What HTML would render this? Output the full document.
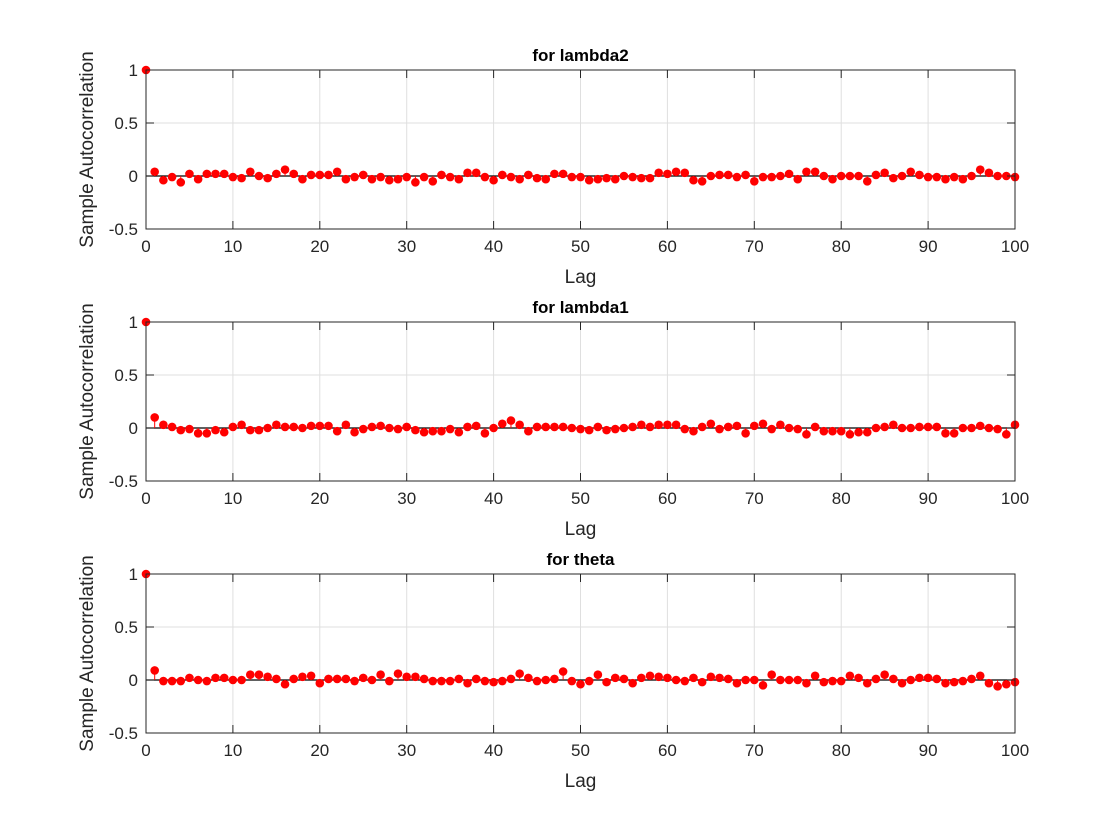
<!DOCTYPE html>
<html><head><meta charset="utf-8"><style>body{margin:0;background:#fff}svg{display:block}text{font-family:"Liberation Sans",sans-serif}</style></head>
<body>
<svg id="fig" width="1120" height="840" xmlns="http://www.w3.org/2000/svg"></svg>
<script>
const lags = Array.from({length:101},(_,i)=>i);
const titles = ["for lambda2","for lambda1","for theta"];
const xTicks = [0,10,20,30,40,50,60,70,80,90,100];
const yTicks = [1,0.5,0,-0.5];
const yTickLabels = ["1","0.5","0","-0.5"];
const acfLambda2 = [1,0.04,-0.04,-0.01,-0.06,0.02,-0.03,0.02,0.02,0.02,-0.01,-0.02,0.04,0.0,-0.02,0.02,0.06,0.02,-0.03,0.01,0.01,0.01,0.04,-0.03,-0.01,0.01,-0.03,-0.01,-0.04,-0.03,-0.01,-0.06,-0.01,-0.05,0.01,-0.01,-0.03,0.03,0.03,-0.01,-0.04,0.01,-0.01,-0.03,0.01,-0.02,-0.03,0.02,0.02,-0.01,-0.01,-0.04,-0.03,-0.02,-0.03,0.0,-0.01,-0.02,-0.02,0.03,0.02,0.04,0.03,-0.04,-0.05,0.0,0.01,0.01,-0.01,0.01,-0.05,-0.01,-0.01,0.0,0.02,-0.03,0.04,0.04,0.0,-0.03,0.0,0.0,0.0,-0.05,0.01,0.03,-0.02,0.0,0.04,0.01,-0.01,-0.01,-0.03,-0.01,-0.03,0.0,0.06,0.03,0.0,0.0,-0.01];
const acfLambda1 = [1,0.10,0.03,0.01,-0.02,-0.01,-0.05,-0.05,-0.02,-0.04,0.01,0.03,-0.02,-0.02,0.0,0.03,0.01,0.01,0.0,0.02,0.02,0.02,-0.03,0.03,-0.04,-0.01,0.01,0.02,0.0,-0.01,0.01,-0.02,-0.04,-0.03,-0.03,-0.01,-0.04,0.01,0.02,-0.05,0.0,0.04,0.07,0.03,-0.03,0.01,0.01,0.01,0.01,0.0,-0.01,-0.02,0.01,-0.02,-0.01,0.0,0.01,0.03,0.01,0.03,0.03,0.03,-0.01,-0.03,0.01,0.04,-0.01,0.01,0.02,-0.05,0.02,0.04,-0.01,0.03,0.0,-0.01,-0.06,0.01,-0.03,-0.03,-0.03,-0.06,-0.04,-0.04,0.0,0.01,0.03,0.0,0.0,0.01,0.01,0.01,-0.05,-0.05,0.0,0.0,0.02,0.0,-0.01,-0.06,0.03];
const acfTheta = [1,0.09,-0.01,-0.01,-0.01,0.02,0.0,-0.01,0.02,0.02,0.0,0.0,0.05,0.05,0.03,0.01,-0.04,0.01,0.03,0.04,-0.03,0.01,0.01,0.01,-0.01,0.02,0.0,0.05,-0.01,0.06,0.03,0.03,0.01,-0.01,-0.01,-0.01,0.01,-0.03,0.01,-0.01,-0.02,-0.01,0.01,0.06,0.02,-0.01,0.0,0.01,0.08,-0.01,-0.04,-0.01,0.05,-0.02,0.02,0.01,-0.03,0.02,0.04,0.03,0.02,0.0,-0.01,0.02,-0.02,0.03,0.02,0.01,-0.03,0.0,0.0,-0.05,0.05,0.0,0.0,0.0,-0.03,0.04,-0.02,-0.01,-0.01,0.04,0.02,-0.03,0.01,0.05,0.01,-0.03,0.0,0.02,0.02,0.01,-0.03,-0.02,-0.01,0.01,0.04,-0.03,-0.06,-0.04,-0.02];
const series = [acfLambda2, acfLambda1, acfTheta];
const names = ["lambda2","lambda1","theta"];

const NS="http://www.w3.org/2000/svg";
const svg=document.getElementById('fig');
function mk(tag,attrs,parent){const e=document.createElementNS(NS,tag);for(const k in attrs)e.setAttribute(k,attrs[k]);(parent||svg).appendChild(e);return e;}
const L=146,R=1015,tops=[70,322,574],H=159;
series.forEach((data,p)=>{
  const T=tops[p],B=T+H;
  const g=mk('g',{});
  
  
  const x=v=>L+(v-0)/(100-0)*(R-L);
  const y=v=>B-(v+0.5)/1.5*H;
  mk('rect',{x:L,y:T,width:R-L,height:H,fill:'#fff',stroke:'none'},g);
  xTicks.forEach(t=>{const l=mk('line',{x1:x(t),x2:x(t),y1:T,y2:B,stroke:'#dfdfdf','stroke-width':1},g);});
  yTicks.forEach(t=>{const l=mk('line',{x1:L,x2:R,y1:y(t),y2:y(t),stroke:'#dfdfdf','stroke-width':1},g);});
  const zl=mk('line',{x1:L,x2:R,y1:y(0),y2:y(0),stroke:'#000','stroke-width':1.2},g);
  
  
  data.forEach((v,i)=>{
    const s=mk('line',{x1:x(lags[i]),x2:x(lags[i]),y1:y(0),y2:y(v),stroke:'#f00','stroke-width':1},g);
    
    
    const c=mk('circle',{cx:x(lags[i]),cy:y(v),r:4.3,fill:'#f00'},g);
    
    
  });
  const box=mk('rect',{x:L,y:T,width:R-L,height:H,fill:'none',stroke:'#262626','stroke-width':1},g);
  
  
  xTicks.forEach(t=>{
    mk('line',{x1:x(t),x2:x(t),y1:B,y2:B-8,stroke:'#262626'},g);
    mk('line',{x1:x(t),x2:x(t),y1:T,y2:T+8,stroke:'#262626'},g);
    const tx=mk('text',{x:x(t),y:B+23,'text-anchor':'middle','font-size':17,fill:'#262626'},g);
    tx.textContent=t;
    
    
  });
  yTicks.forEach((t,i)=>{
    mk('line',{x1:L,x2:L+8,y1:y(t),y2:y(t),stroke:'#262626'},g);
    mk('line',{x1:R,x2:R-8,y1:y(t),y2:y(t),stroke:'#262626'},g);
    const tx=mk('text',{x:L-8,y:y(t)+6,'text-anchor':'end','font-size':17,fill:'#262626'},g);
    tx.textContent=yTickLabels[i];
    
    
  });
  const ti=mk('text',{x:(L+R)/2,y:T-9,'text-anchor':'middle','font-size':17,'font-weight':'bold',fill:'#000'},g);
  ti.textContent=titles[p];
  
  
  const xl=mk('text',{x:(L+R)/2,y:B+54,'text-anchor':'middle','font-size':19,fill:'#262626'},g);
  xl.textContent='Lag';
  
  
  const yl=mk('text',{x:0,y:0,'text-anchor':'middle','font-size':19,fill:'#262626',transform:`translate(93,${(T+B)/2}) rotate(-90)`},g);
  yl.textContent='Sample Autocorrelation';
  
  
});
</script>
</body></html>
